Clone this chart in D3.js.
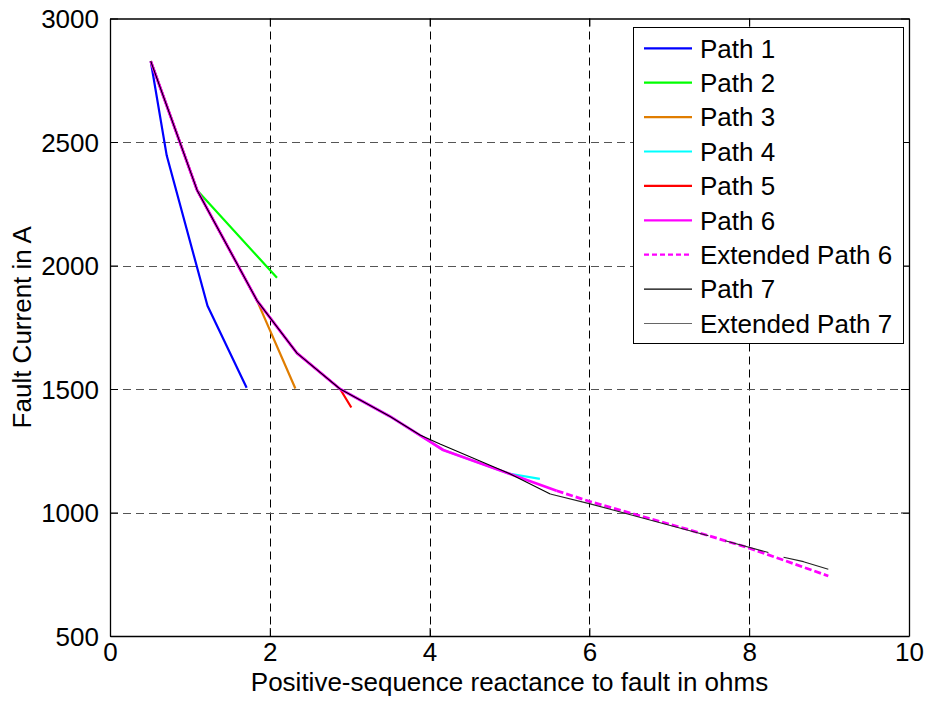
<!DOCTYPE html>
<html>
<head>
<meta charset="utf-8">
<script src="https://cdn.jsdelivr.net/npm/d3@7"></script>
<style>
  html, body { margin: 0; padding: 0; background: #fff; }
  svg { display: block; font-family: "Liberation Sans", Arial, sans-serif; }
</style>
</head>
<body>
<svg id="chart" width="930" height="706"></svg>
<script>
// Fault current versus positive-sequence reactance for each feeder path
const xTicks = [0, 2, 4, 6, 8, 10];
const yTicks = [500, 1000, 1500, 2000, 2500, 3000];

const path1X = [0.51, 0.71, 1.22, 1.71];
const path1Y = [2827, 2445, 1837, 1505];

const path2X = [0.51, 1.09, 2.09];
const path2Y = [2827, 2305, 1950];

const path3X = [0.51, 1.09, 1.84, 2.32];
const path3Y = [2827, 2305, 1858, 1502];

const path4X = [0.51, 1.09, 1.84, 2.34, 2.88, 3.5, 3.99, 4.17, 4.99, 5.38];
const path4Y = [2827, 2305, 1858, 1645, 1500, 1390, 1290, 1253, 1158, 1136];

const path5X = [0.51, 1.09, 1.84, 2.34, 2.88, 3.02];
const path5Y = [2827, 2305, 1858, 1645, 1500, 1425];

const path6X = [0.51, 1.09, 1.84, 2.34, 2.88, 3.5, 3.99, 4.17, 4.99, 5.59];
const path6Y = [2827, 2305, 1858, 1645, 1500, 1390, 1290, 1253, 1158, 1088];

const extPath6X = [5.59, 6.01, 7.26, 8.01, 8.99];
const extPath6Y = [1088, 1044, 929, 855, 743];

const path7X = [0.51, 1.09, 1.84, 2.34, 2.88, 3.5, 3.88, 4.13, 4.99, 5.51];
const path7Y = [2827, 2305, 1858, 1645, 1500, 1390, 1314, 1277, 1159, 1075];

// null entries mark breaks in the extended trace
const extPath7X = [5.51, 6.01, 6.63, 7.49, null, 7.70, 8.24, null, 8.43, 8.68, 8.99];
const extPath7Y = [1075, 1035, 981, 906, null, 886, 838, null, 819, 801, 770];

const seriesNames = ["Path 1", "Path 2", "Path 3", "Path 4", "Path 5", "Path 6",
                     "Extended Path 6", "Path 7", "Extended Path 7"];

const series = [
  { name: seriesNames[0], xs: path1X, ys: path1Y, color: "#0000ff", width: 2.2 },
  { name: seriesNames[1], xs: path2X, ys: path2Y, color: "#00ff00", width: 2.2 },
  { name: seriesNames[2], xs: path3X, ys: path3Y, color: "#e07d00", width: 2.2 },
  { name: seriesNames[3], xs: path4X, ys: path4Y, color: "#00ffff", width: 2.2 },
  { name: seriesNames[4], xs: path5X, ys: path5Y, color: "#ff0000", width: 2.2 },
  { name: seriesNames[5], xs: path6X, ys: path6Y, color: "#ff00ff", width: 2.8 },
  { name: seriesNames[6], xs: extPath6X, ys: extPath6Y, color: "#ff00ff", width: 2.8, dash: "7,3" },
  { name: seriesNames[7], xs: path7X, ys: path7Y, color: "#000000", width: 1.1 },
  { name: seriesNames[8], xs: extPath7X, ys: extPath7Y, color: "#222222", width: 1.1, legendColor: "#666666" }
];

(function drawChart() {
  const svg = d3.select("#chart");
  const plotLeft = 110, plotRight = 909, plotTop = 18.5, plotBottom = 636;

  const x = d3.scaleLinear().domain([0, 10]).range([plotLeft, plotRight]);
  const y = d3.scaleLinear().domain([500, 3000]).range([plotBottom, plotTop]);

  // dashed grid
  const grid = svg.append("g").attr("stroke", "#000").attr("stroke-width", 1)
    .attr("stroke-dasharray", "8,5");
  grid.selectAll("line.v").data(xTicks.slice(1, -1)).join("line").attr("class", "v")
    .attr("x1", d => Math.round(x(d)) + 0.5).attr("x2", d => Math.round(x(d)) + 0.5)
    .attr("y1", plotTop).attr("y2", plotBottom);
  grid.selectAll("line.h").data(yTicks.slice(1, -1)).join("line").attr("class", "h")
    .attr("y1", d => Math.round(y(d)) + 0.5).attr("y2", d => Math.round(y(d)) + 0.5)
    .attr("x1", plotLeft).attr("x2", plotRight)
    .attr("stroke", "#555");

  // axes with inward ticks, mirrored on top and right
  const fmt = d3.format("d");
  const bottomAxis = svg.append("g").attr("transform", `translate(0,${plotBottom})`)
    .call(d3.axisBottom(x).tickValues(xTicks).tickFormat(fmt)
      .tickSizeInner(-8).tickSizeOuter(0).tickPadding(7));
  const topAxis = svg.append("g").attr("transform", `translate(0,${plotTop})`)
    .call(d3.axisTop(x).tickValues(xTicks).tickSizeInner(-8).tickSizeOuter(0).tickFormat(""));
  const leftAxis = svg.append("g").attr("transform", `translate(${plotLeft},0)`)
    .call(d3.axisLeft(y).tickValues(yTicks).tickFormat(fmt)
      .tickSizeInner(-8).tickSizeOuter(0).tickPadding(11));
  const rightAxis = svg.append("g").attr("transform", `translate(${plotRight},0)`)
    .call(d3.axisRight(y).tickValues(yTicks).tickSizeInner(-8).tickSizeOuter(0).tickFormat(""));

  [bottomAxis, topAxis, leftAxis, rightAxis].forEach(a => {
    a.selectAll(".domain").attr("stroke", "#000").attr("stroke-width", 1.3);
    a.selectAll(".tick line").attr("stroke", "#000").attr("stroke-width", 1);
    a.selectAll("text").attr("fill", "#000").style("font-size", "26px")
      .style("font-family", "'Liberation Sans', Arial, sans-serif");
  });
  leftAxis.selectAll("text").attr("dy", "0.36em");
  bottomAxis.selectAll("text").attr("dy", "0.71em");

  // series lines
  const line = d3.line()
    .defined(d => d[0] !== null && d[1] !== null)
    .x(d => x(d[0])).y(d => y(d[1]));

  const plot = svg.append("g");
  series.forEach(s => {
    const pts = s.xs.map((v, i) => [v, s.ys[i]]);
    plot.append("path")
      .attr("d", line(pts))
      .attr("fill", "none")
      .attr("stroke", s.color)
      .attr("stroke-width", s.width)
      .attr("stroke-linejoin", "round")
      .attr("stroke-dasharray", s.dash || null);
  });

  // axis titles
  svg.append("text")
    .attr("x", (plotLeft + plotRight) / 2).attr("y", 691)
    .attr("text-anchor", "middle")
    .style("font-size", "26px")
    .text("Positive-sequence reactance to fault in ohms");

  svg.append("text")
    .attr("transform", `translate(31,${(plotTop + plotBottom) / 2}) rotate(-90)`)
    .attr("text-anchor", "middle")
    .style("font-size", "26px")
    .text("Fault Current in A");

  // legend
  const lg = svg.append("g");
  const lgLeft = 633.5, lgTop = 27.5, lgW = 270, lgH = 316, rowH = 34.4, row0 = 48.3;
  lg.append("rect")
    .attr("x", lgLeft).attr("y", lgTop).attr("width", lgW).attr("height", lgH)
    .attr("fill", "#fff").attr("stroke", "#000").attr("stroke-width", 1);
  series.forEach((s, i) => {
    const cy = row0 + i * rowH;
    lg.append("line")
      .attr("x1", 644).attr("x2", 692).attr("y1", cy).attr("y2", cy)
      .attr("stroke", s.legendColor || s.color)
      .attr("stroke-width", s.width > 2 ? 2.2 : 1.1)
      .attr("stroke-dasharray", s.dash ? "5,3" : null);
    lg.append("text")
      .attr("x", 700).attr("y", cy).attr("dy", "0.36em")
      .style("font-size", "26px")
      .text(s.name);
  });
})();
</script>
</body>
</html>
